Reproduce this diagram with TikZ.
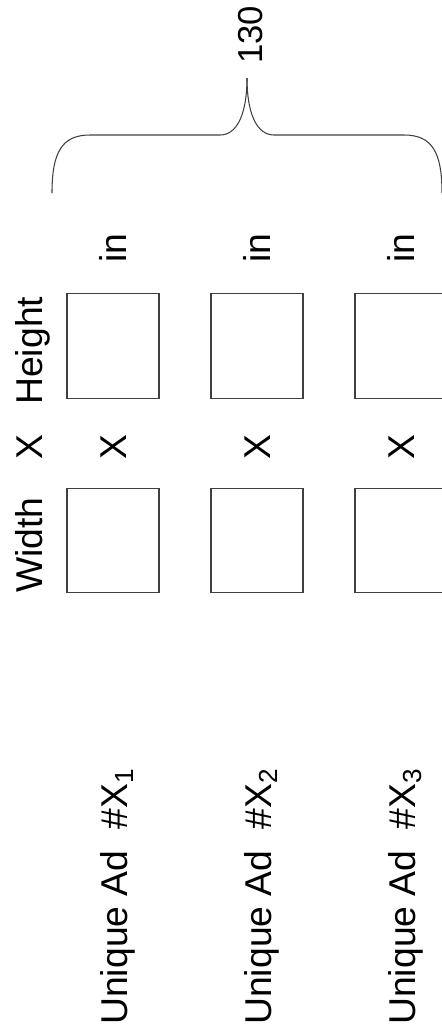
\documentclass[tikz,border=0pt]{standalone}
\usepackage{fontspec}
\setmainfont{Liberation Sans}
\usepackage{tikz}

\begin{document}
\begin{tikzpicture}[x=0.75pt,y=0.75pt,yscale=-1,xscale=1,
    lbl/.style={rotate=90,inner sep=0pt,font=\fontsize{28}{30}\selectfont},
    fld/.style={draw=black!75,line width=0.8pt,inner sep=0pt,minimum width=69pt,minimum height=78.5pt}]
  \useasboundingbox (0,0) rectangle (442,1033);

  % Text Node
  \node (ref) [lbl,anchor=base west,font=\fontsize{26}{28}\selectfont] at (262,64) {130};
  %Curve Lines (brace)
  \coordinate (tip) at (247,78);
  \draw [black!75,line width=0.8pt] (52,193) .. controls (52,152) and (62,135) .. (90,135) -- (220,135) .. controls (238,135) and (247,112) .. (tip);
  \draw [black!75,line width=0.8pt] (442,193) .. controls (442,152) and (432,135) .. (404,135) -- (274,135) .. controls (256,135) and (247,112) .. (tip);

  % Text Node (header)
  \node (wd) [lbl,anchor=base west] at (42,593) {Width};
  \node (tm) [lbl,anchor=base] at (42,447) {X};
  \node (ht) [lbl,anchor=base west] at (42,405) {Height};

  %Shape: Rectangle + Text Node
  \foreach \i/\c in {1/113,2/257,3/401} {
    \node (h\i) [fld] at (\c,346) {};
    \node (w\i) [fld] at (\c,540.5) {};
    \node (x\i) [lbl,anchor=base] at (\c+13,447) {X};
    \node (in\i) [lbl,anchor=base west] at (\c+13,263) {in};
    \node (ad\i) [lbl,anchor=base west] at (\c+14,1025) {Unique Ad\hspace{.28em} \#X\textsubscript{\i}};
  }
\end{tikzpicture}
\end{document}
